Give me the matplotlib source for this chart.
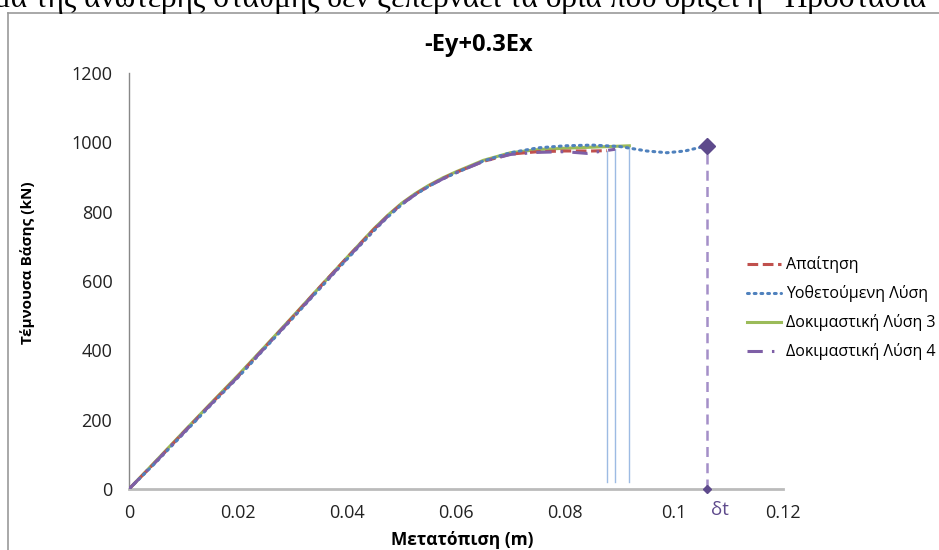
import numpy as np
import matplotlib.pyplot as plt
from matplotlib.lines import Line2D

plt.rcParams['font.family'] = ['Open Sans', 'DejaVu Sans']

#--------- data ---------
x_req = [0, 0.005, 0.01, 0.015, 0.02, 0.025, 0.03, 0.035, 0.04, 0.045, 0.0475, 0.05, 0.0525, 0.055, 0.0575, 0.06, 0.065, 0.07, 0.075, 0.08, 0.085, 0.0877]
y_req = [0, 80, 163, 245, 325, 410, 495, 582, 667, 750, 788, 822, 850, 874, 895, 913, 945, 966, 973, 975, 975, 976]

x_adopt = [0, 0.005, 0.01, 0.015, 0.02, 0.025, 0.03, 0.035, 0.04, 0.045, 0.0475, 0.05, 0.0525, 0.055, 0.0575, 0.06, 0.065, 0.07, 0.075, 0.08, 0.085, 0.09, 0.095, 0.0987, 0.102, 0.106]
y_adopt = [0, 78, 160, 242, 322, 407, 492, 578, 663, 746, 785, 820, 849, 873, 894, 912, 946, 970, 984, 990, 992, 988, 975, 970, 975, 990]

x_trial3 = [0, 0.005, 0.01, 0.015, 0.02, 0.025, 0.03, 0.035, 0.04, 0.045, 0.0475, 0.05, 0.0525, 0.055, 0.0575, 0.06, 0.065, 0.07, 0.075, 0.08, 0.085, 0.0918]
y_trial3 = [0, 82, 165, 247, 328, 412, 497, 583, 668, 752, 790, 824, 852, 876, 897, 915, 948, 970, 979, 983, 986, 990]

x_trial4 = [0, 0.005, 0.01, 0.015, 0.02, 0.025, 0.03, 0.035, 0.04, 0.045, 0.0475, 0.05, 0.0525, 0.055, 0.0575, 0.06, 0.065, 0.07, 0.075, 0.08, 0.084, 0.0892]
y_trial4 = [0, 80, 162, 244, 324, 409, 494, 580, 665, 749, 787, 821, 849, 873, 894, 912, 945, 965, 971, 973, 968, 980]

drop_x = [0.0877, 0.0892, 0.0918]
drop_top = [976, 980, 990]
drop_bottom = 20

dt_x = 0.106
dt_y = 990

labels = ['Απαίτηση', 'Υοθετούμενη Λύση', 'Δοκιμαστική Λύση 3', 'Δοκιμαστική Λύση 4']

#--------- plotting ---------
fig = plt.figure(figsize=(9.39, 5.5), dpi=100)
ax = fig.add_axes([0.1374, 0.1109, 0.6965, 0.7564])

red = '#C0504D'
blue = '#4F81BD'
green = '#9BBB59'
purple = '#7E5FA6'

for xv, yt in zip(drop_x, drop_top):
    ax.plot([xv, xv], [drop_bottom, yt], color='#9DBBE3', lw=1.0, zorder=1)

ax.plot(x_req, y_req, color=red, lw=2.2, ls=(0, (3.5, 1.5)), label=labels[0], zorder=3)
ax.plot(x_adopt, y_adopt, color=blue, lw=2.2, ls=(0, (0.6, 1.6)), label=labels[1], zorder=3, dash_capstyle='round')
ax.plot(x_trial3, y_trial3, color=green, lw=2.2, ls='-', label=labels[2], zorder=2)
ax.plot(x_trial4, y_trial4, color=purple, lw=2.2, ls=(0, (5, 3, 0.8, 3)), label=labels[3], zorder=4)

ax.plot([dt_x, dt_x], [0, dt_y], color='#A48FC8', lw=1.8, ls=(0, (4, 2.5)), zorder=2)
ax.plot([dt_x], [dt_y], marker='D', ms=8, color='#5E4A8C', zorder=5)
ax.plot([dt_x], [0], marker='D', ms=4, color='#5E4A8C', zorder=5, clip_on=False)
ax.text(dt_x + 0.0025, -62, 'δt', color='#5E4A8C', fontsize=13.5, ha='center', va='center')

ax.set_xlim(0, 0.12)
ax.set_ylim(0, 1200)
ax.set_xticks([0, 0.02, 0.04, 0.06, 0.08, 0.1, 0.12])
ax.set_xticklabels(['0', '0.02', '0.04', '0.06', '0.08', '0.1', '0.12'])
ax.set_yticks(np.arange(0, 1201, 200))
ax.tick_params(length=0, labelsize=13, colors='#222222')
ax.tick_params(axis='x', pad=11)
ax.tick_params(axis='y', pad=12)
for s in ['top', 'right']:
    ax.spines[s].set_visible(False)
ax.spines['left'].set_color('#888888')
ax.spines['left'].set_linewidth(1.0)
ax.spines['bottom'].set_color('#BBBBBB')
ax.spines['bottom'].set_linewidth(2.0)

fig.text(479/939, 1 - 45/550, '-Ey+0.3Ex', ha='center', va='center', fontsize=17, fontweight='bold')
fig.text(462/939, 1 - 540/550, 'Μετατόπιση (m)', ha='center', va='center', fontsize=12.5, fontweight='bold')
fig.text(28/939, 1 - 263/550, 'Τέμνουσα Βάσης (kN)', ha='center', va='center', fontsize=11,
         fontweight='bold', rotation=90)

ax.legend(loc='upper left', bbox_to_anchor=(741/939, 1 - 250/550), bbox_transform=fig.transFigure,
          frameon=False, fontsize=11.5, handlelength=2.1, labelspacing=0.75, handletextpad=0.3,
          borderaxespad=0)

# chart frame and cut-off text line above it
fig.add_artist(Line2D([8/939, 8/939], [0, 1 - 13/550], color='#999999', lw=1.2, transform=fig.transFigure))
fig.add_artist(Line2D([8/939, 1], [1 - 13/550, 1 - 13/550], color='#999999', lw=1.2, transform=fig.transFigure))
fig.text(-6/939, 1 - 7/550, 'μα της ανώτερης στάθμης δεν ξεπερνάει τα όρια που ορίζει η “Προστασία',
         ha='left', va='baseline', fontsize=22.5, family=['Liberation Serif', 'DejaVu Serif'])

fig.savefig('out.png', dpi=100)
